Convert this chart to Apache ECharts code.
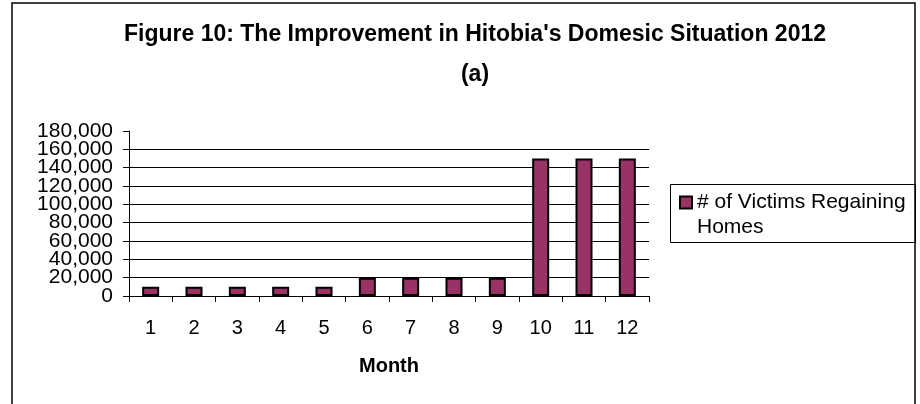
<!DOCTYPE html>
<html>
<head>
<meta charset="utf-8">
<title>Figure 10</title>
<script src="https://cdn.jsdelivr.net/npm/echarts@6/dist/echarts.min.js"></script>
<style>
  html, body { margin: 0; padding: 0; background: #fff; }
  #chart { width: 920px; height: 404px; }
</style>
</head>
<body>
<div id="chart"></div>
<script>
// data
const months = ['1', '2', '3', '4', '5', '6', '7', '8', '9', '10', '11', '12']
const victims = [10000, 10000, 10000, 10000, 10000, 20000, 20000, 20000, 20000, 150000, 150000, 150000]
const seriesName = '# of Victims Regaining\nHomes'
const yMin = 0
const yMax = 180000
const yStep = 20000

const font = '"Liberation Sans", Arial, sans-serif'

function withCommas(v) {
  return String(v).replace(/\B(?=(\d{3})+(?!\d))/g, ',')
}

const yLabelStyle = {
  margin: 16,
  fontFamily: font,
  fontSize: 21,
  color: '#000',
  lineHeight: 16
}

const chart = echarts.init(document.getElementById('chart'), null, { renderer: 'canvas' })

chart.setOption({
  backgroundColor: '#fff',
  animation: false,
  textStyle: { fontFamily: font },
  title: {
    text: 'Figure 10: The Improvement in Hitobia\'s Domesic Situation 2012\n(a)',
    left: 470,
    top: 10,
    textAlign: 'center',
    textStyle: {
      fontFamily: font,
      fontSize: 23,
      fontWeight: 'bold',
      color: '#000',
      lineHeight: 40
    }
  },
  graphic: [
    {
      // outer chart frame (bottom edge is off the picture)
      type: 'rect',
      shape: { x: 12, y: 3, width: 903, height: 500 },
      style: { fill: 'none', stroke: '#000', lineWidth: 1.5 },
      silent: true
    },
    {
      // legend box
      type: 'rect',
      shape: { x: 670.5, y: 184.5, width: 245, height: 58 },
      style: { fill: 'none', stroke: '#000', lineWidth: 1 },
      silent: true
    }
  ],
  legend: {
    data: [seriesName],
    orient: 'vertical',
    left: 679,
    top: 165,
    padding: 0,
    itemWidth: 12,
    itemHeight: 12,
    itemGap: 0,
    icon: 'rect',
    selectedMode: false,
    // leading blank line keeps the marker level with the first text line
    formatter: function(name) {
      return '\n' + name
    },
    textStyle: {
      fontFamily: font,
      fontSize: 21,
      color: '#000',
      lineHeight: 25
    }
  },
  grid: {
    left: 129,
    top: 131,
    width: 520,
    height: 165,
    containLabel: false
  },
  xAxis: {
    type: 'category',
    data: months,
    name: 'Month',
    nameLocation: 'middle',
    nameGap: 60,
    nameTextStyle: {
      fontFamily: font,
      fontSize: 20,
      fontWeight: 'bold',
      color: '#000'
    },
    axisLine: { lineStyle: { color: '#000', width: 1 } },
    axisTick: {
      show: true,
      inside: false,
      length: 6,
      alignWithLabel: false,
      lineStyle: { color: '#000' }
    },
    axisLabel: {
      margin: 22,
      fontFamily: font,
      fontSize: 20,
      color: '#000'
    },
    splitLine: { show: false }
  },
  yAxis: [
    {
      // main axis: line, ticks, gridlines and the end labels
      type: 'value',
      min: yMin,
      max: yMax,
      interval: yStep,
      axisLine: { show: true, lineStyle: { color: '#000', width: 1 } },
      axisTick: {
        show: true,
        inside: false,
        length: 6,
        lineStyle: { color: '#000' }
      },
      axisLabel: Object.assign({}, yLabelStyle, {
        customValues: [yMin, yMax],
        showMinLabel: true,
        showMaxLabel: true,
        formatter: function(v) {
          return (v === yMin || v === yMax) ? withCommas(v) : ''
        }
      }),
      splitLine: {
        show: true,
        showMinLine: false,
        showMaxLine: false,
        lineStyle: { color: '#000', width: 1 }
      }
    },
    {
      // same scale, only the inner labels (the packed labels would
      // otherwise be dropped next to the end ones)
      type: 'value',
      position: 'left',
      min: yMin,
      max: yMax,
      interval: yStep,
      axisLine: { show: false },
      axisTick: { show: false },
      splitLine: { show: false },
      axisLabel: Object.assign({}, yLabelStyle, {
        showMinLabel: false,
        showMaxLabel: false,
        formatter: withCommas
      })
    }
  ],
  series: [
    {
      name: seriesName,
      type: 'bar',
      yAxisIndex: 0,
      data: victims,
      barWidth: 17,
      itemStyle: {
        color: '#993366',
        borderColor: '#000',
        borderWidth: 2
      }
    }
  ]
})
</script>
</body>
</html>
